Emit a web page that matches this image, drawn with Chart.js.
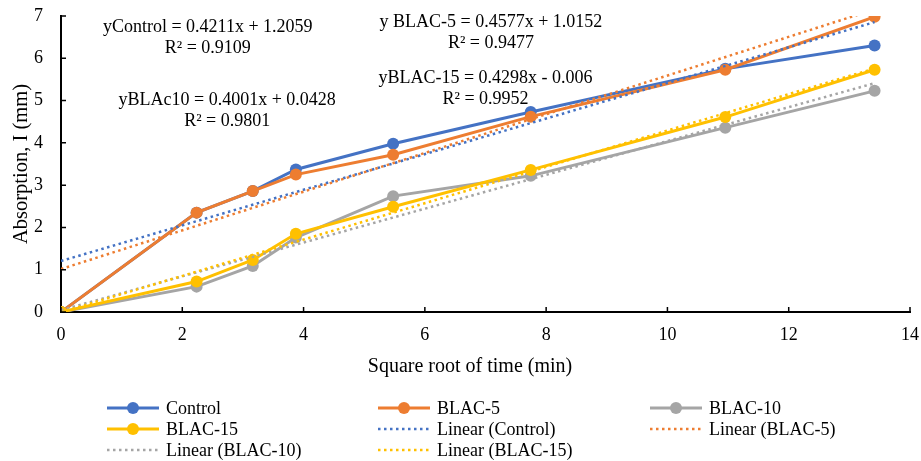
<!DOCTYPE html>
<html>
<head>
<meta charset="utf-8">
<script src="https://cdn.jsdelivr.net/npm/chart.js@4.4.1/dist/chart.umd.min.js"></script>
<style>
  html, body { margin: 0; padding: 0; background: #fff; }
  #wrap { width: 921px; height: 461px; position: relative; }
</style>
</head>
<body>
<div id="wrap"><canvas id="absorptionChart" width="921" height="461"></canvas></div>
<script>
  // square root of time (min) at each reading
  const sqrtTime = [0, 2.236, 3.162, 3.873, 5.477, 7.746, 10.954, 13.416];

  const seriesNames = ["Control", "BLAC-5", "BLAC-10", "BLAC-15"];
  const seriesColors = ["#4472C4", "#ED7D31", "#A5A5A5", "#FFC000"];

  const controlValues = [0, 2.35, 2.86, 3.37, 3.98, 4.73, 5.75, 6.30];
  const blac5Values   = [0, 2.35, 2.86, 3.25, 3.72, 4.62, 5.73, 6.98];
  const blac10Values  = [0, 0.60, 1.09, 1.76, 2.74, 3.22, 4.36, 5.23];
  const blac15Values  = [0, 0.72, 1.23, 1.85, 2.49, 3.36, 4.61, 5.73];

  // fitted trendlines: y = slope * x + intercept
  const trendSlopes = [0.4211, 0.4577, 0.4001, 0.4298];
  const trendIntercepts = [1.2059, 1.0152, 0.0428, -0.006];
  const trendR2 = ["0.9109", "0.9477", "0.9801", "0.9952"];
  const trendLabels = [
    "yControl = 0.4211x + 1.2059",
    "y BLAC-5 = 0.4577x + 1.0152",
    "yBLAc10 = 0.4001x + 0.0428",
    "yBLAC-15 = 0.4298x - 0.006"
  ];
  // where each equation sits, in axis units (centre of the first line)
  const trendLabelAnchors = [[2.42, 6.74], [7.09, 6.86], [2.74, 5.01], [7.0, 5.53]];

  const xTicks = [0, 2, 4, 6, 8, 10, 12, 14];
  const yTicks = [0, 1, 2, 3, 4, 5, 6, 7];

  const allValues = [controlValues, blac5Values, blac10Values, blac15Values];
  const serif = "'Liberation Serif', 'Times New Roman', serif";

  const datasets = [];
  allValues.forEach((vals, i) => {
    datasets.push({
      label: seriesNames[i],
      data: vals.map((v, k) => ({ x: sqrtTime[k], y: v })),
      borderColor: seriesColors[i],
      backgroundColor: seriesColors[i],
      borderWidth: 3,
      pointRadius: 6,
      pointHoverRadius: 6,
      pointBorderWidth: 0,
      showLine: true,
      order: 8 - i,
      kind: "series"
    });
  });
  trendSlopes.forEach((m, i) => {
    const x0 = sqrtTime[0];
    const x1 = sqrtTime[sqrtTime.length - 1];
    datasets.push({
      label: "Linear (" + seriesNames[i] + ")",
      data: [{ x: x0, y: m * x0 + trendIntercepts[i] }, { x: x1, y: m * x1 + trendIntercepts[i] }],
      borderColor: seriesColors[i],
      backgroundColor: seriesColors[i],
      borderWidth: 2.5,
      borderDash: [2.5, 3.5],
      pointRadius: 0,
      showLine: true,
      order: 4 - i,
      kind: "trend"
    });
  });

  // inward tick marks on both axes
  const insideTicks = {
    id: "insideTicks",
    afterDraw(chart) {
      const { ctx, chartArea, scales } = chart;
      ctx.save();
      ctx.strokeStyle = "#000";
      ctx.lineWidth = 1.5;
      ctx.beginPath();
      xTicks.forEach(t => {
        const px = scales.x.getPixelForValue(t);
        ctx.moveTo(px, chartArea.bottom);
        ctx.lineTo(px, chartArea.bottom - 5);
      });
      yTicks.forEach(t => {
        const py = scales.y.getPixelForValue(t);
        ctx.moveTo(chartArea.left, py);
        ctx.lineTo(chartArea.left + 5, py);
      });
      ctx.stroke();
      ctx.restore();
    }
  };

  // regression equations, R² values and the x axis title
  const equationText = {
    id: "equationText",
    afterDatasetsDraw(chart) {
      const { ctx, scales } = chart;
      ctx.save();
      ctx.fillStyle = "#000";
      ctx.font = "18px " + serif;
      ctx.textAlign = "center";
      ctx.textBaseline = "middle";
      trendLabels.forEach((txt, i) => {
        const px = scales.x.getPixelForValue(trendLabelAnchors[i][0]);
        const py = scales.y.getPixelForValue(trendLabelAnchors[i][1]);
        ctx.fillText(txt, px, py);
        ctx.fillText("R² = " + trendR2[i], px, py + 21);
      });
      // title sits centred on the whole figure rather than the plot
      ctx.font = "20px " + serif;
      ctx.fillText("Square root of time (min)", 470, 367);
      ctx.restore();
    }
  };

  // three-column legend under the axis title
  const gridLegend = {
    id: "gridLegend",
    afterDraw(chart) {
      const { ctx } = chart;
      const colX = [107, 378, 650];
      const rowY = [408, 429, 450];
      ctx.save();
      ctx.font = "18px " + serif;
      ctx.textBaseline = "middle";
      ctx.textAlign = "left";
      chart.data.datasets.forEach((ds, i) => {
        const x = colX[i % 3];
        const y = rowY[Math.floor(i / 3)];
        ctx.strokeStyle = ds.borderColor;
        if (ds.kind === "series") {
          ctx.lineWidth = 3;
          ctx.setLineDash([]);
        } else {
          ctx.lineWidth = 2.5;
          ctx.setLineDash([2.5, 3.5]);
        }
        ctx.beginPath();
        ctx.moveTo(x, y);
        ctx.lineTo(x + 52, y);
        ctx.stroke();
        ctx.setLineDash([]);
        if (ds.kind === "series") {
          ctx.fillStyle = ds.borderColor;
          ctx.beginPath();
          ctx.arc(x + 26, y, 6, 0, Math.PI * 2);
          ctx.fill();
        }
        ctx.fillStyle = "#000";
        ctx.fillText(ds.label, x + 59, y + 1);
      });
      ctx.restore();
    }
  };

  new Chart(document.getElementById("absorptionChart").getContext("2d"), {
    type: "scatter",
    data: { datasets },
    options: {
      responsive: false,
      animation: false,
      events: [],
      layout: { padding: { left: 0, top: 16, right: 11, bottom: 79 } },
      plugins: {
        legend: { display: false },
        tooltip: { enabled: false }
      },
      scales: {
        x: {
          type: "linear",
          min: 0,
          max: 14,
          afterBuildTicks(scale) { scale.ticks = xTicks.map(v => ({ value: v })); },
          afterFit(scale) {
            scale.height = 70;
            scale.paddingLeft = 0;
            scale.paddingRight = 0;
          },
          grid: { display: true, drawOnChartArea: false, drawTicks: false },
          border: { display: true, color: "#000", width: 2 },
          ticks: { color: "#000", padding: 12, font: { family: serif, size: 18 } },
          title: { display: false }
        },
        y: {
          type: "linear",
          min: 0,
          max: 7,
          afterBuildTicks(scale) { scale.ticks = yTicks.map(v => ({ value: v })); },
          afterFit(scale) {
            scale.width = 61;
            scale.paddingTop = 0;
            scale.paddingBottom = 0;
          },
          grid: { display: true, drawOnChartArea: false, drawTicks: false },
          border: { display: true, color: "#000", width: 2 },
          ticks: { color: "#000", padding: 18, font: { family: serif, size: 18 } },
          title: {
            display: true,
            text: "Absorption, I (mm)",
            color: "#000",
            font: { family: serif, size: 20.5 },
            padding: { top: 9, bottom: 0 }
          }
        }
      }
    },
    plugins: [insideTicks, equationText, gridLegend]
  });
</script>
</body>
</html>
